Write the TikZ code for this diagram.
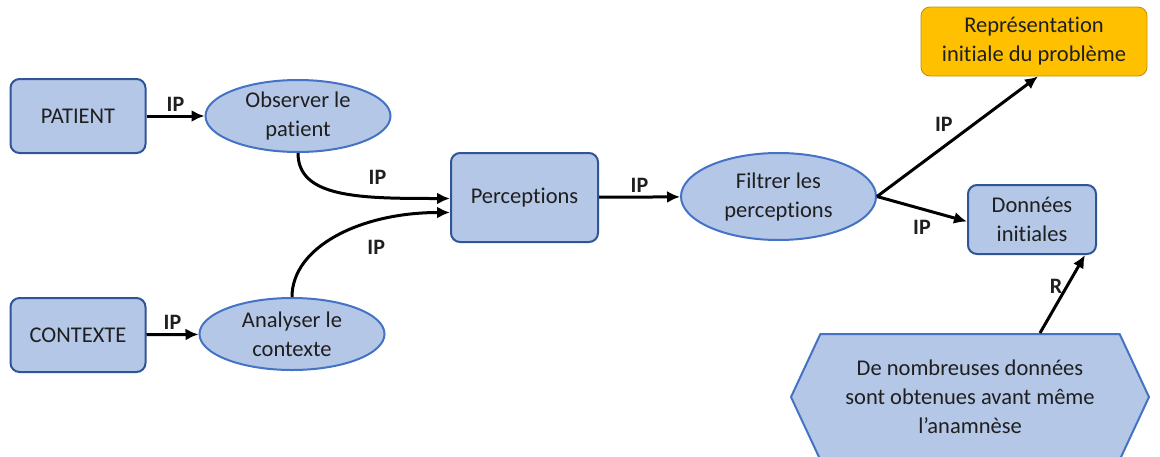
\documentclass[tikz,border=0pt]{standalone}
\usepackage{fontspec}
\setmainfont{Carlito}[Ligatures=NoCommon]
\usetikzlibrary{positioning,shapes.geometric,shapes.symbols,arrows.meta}
\definecolor{boxfill}{HTML}{B4C7E7}
\definecolor{boxdraw}{HTML}{2F5597}
\definecolor{ovaldraw}{HTML}{4472C4}
\definecolor{goldfill}{HTML}{FFC000}
\definecolor{golddraw}{HTML}{BF9000}
\tikzset{%
    every box/.style={
        rectangle,
        rounded corners=9pt,
        draw=boxdraw,
        fill=boxfill,
        line width=2pt,
        align=center,
        inner sep=0pt
    },
    box gold/.style={
        fill=goldfill,
        draw=golddraw,
        line width=0.8pt
    },
    every oval/.style={
        ellipse,
        draw=ovaldraw,
        fill=boxfill,
        line width=2pt,
        align=center,
        inner sep=0pt
    },
    every hexa/.style={
        signal,
        signal to=west and east,
        signal pointer angle=130,
        draw=ovaldraw,
        fill=boxfill,
        line width=2pt,
        align=center,
        inner sep=0pt
    },
    link/.style={
        ->,
        line width=3pt
    },
    link label/.style={
        font=\fontsize{22}{26}\selectfont\bfseries
    },
}

\begin{document}
\begin{tikzpicture}[x=1pt, y=-1pt, >={Latex[length=13pt,width=12pt]},
    font=\fontsize{22.5}{29}\selectfont, text=black!88]

        \useasboundingbox (0,0) rectangle (1160,456);

        \foreach \n/\t/\y in {patient/PATIENT/116,contexte/CONTEXTE/335}
            \node [every box/.try, minimum width=135pt, minimum height=74pt] (\n) at (78,\y) {\t};

        \node [every oval/.try, minimum width=185pt, minimum height=72pt] (observe) at (298,116) {Observer le\\patient};
        \node [every oval/.try, minimum width=185pt, minimum height=72pt] (analyse) at (292,334) {Analyser le\\contexte};

        \node [every box/.try, minimum width=147pt, minimum height=89pt] (percept) at (524.5,197.5) {Perceptions};
        \node [every oval/.try, minimum width=195pt, minimum height=87pt] (filter) at (778.5,196.5) {Filtrer les\\perceptions};

        \node [every box/.try, box gold, minimum width=226pt, minimum height=69pt] (repr) at (1034,41.5) {Représentation\\initiale du problème};
        \node [every box/.try, minimum width=128pt, minimum height=69pt] (donnees) at (1032,219.5) {Données\\initiales};

        \node [every hexa/.try, minimum width=358pt, minimum height=126pt] (hexa) at (970,397) {De nombreuses données\\sont obtenues avant même\\l’anamnèse};

        % liens
        \draw [link] (patient) -- (observe) node [link label, above, midway] {IP};
        \draw [link] (contexte) -- (analyse) node [link label, above, midway] {IP};

        \draw [link] (observe.south) .. controls +(0,45) and +(-90,0) .. ([yshift=-1pt]percept.west)
            node [link label, above=8pt, pos=0.7] {IP};
        \draw [link] (analyse.north) .. controls +(0,-50) and +(-90,0) .. ([yshift=-15pt]percept.west)
            node [link label, below=14pt, pos=0.7] {IP};

        \draw [link] (percept) -- (filter) node [link label, above, midway] {IP};

        \draw [link] (filter.east) -- ([xshift=4pt]repr.south) node [link label, above left, midway] {IP};
        \draw [link] (filter.east) -- ([yshift=-2pt]donnees.west) node [link label, below=6pt, midway] {IP};

        \draw [link] ([xshift=70pt]hexa.north) -- ([xshift=53pt]donnees.south) node [link label, left, pos=0.6] {R};

\end{tikzpicture}
\end{document}
